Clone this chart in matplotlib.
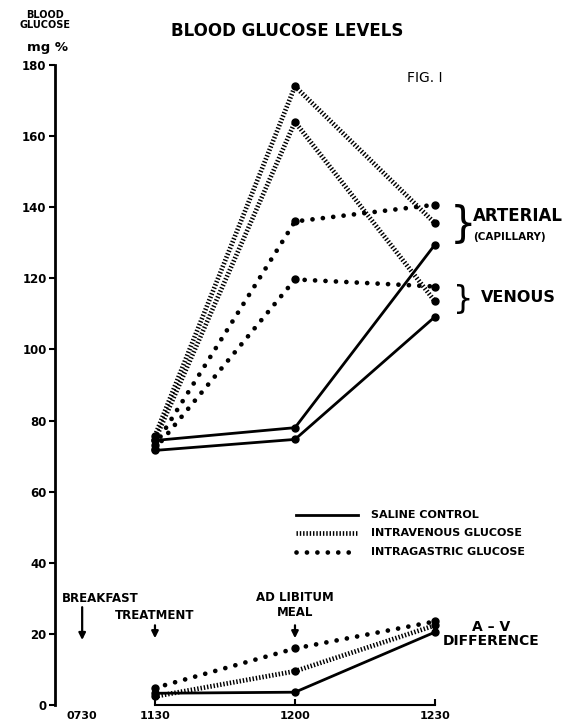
import matplotlib.pyplot as plt

# sampling times and their place on the (non linear) time axis
times = ['0730', '1130', '1200', '1230']
time_pos = {'0730': -0.52, '1130': 0.0, '1200': 1.0, '1230': 2.0}
sample_times = ['1130', '1200', '1230']

# blood glucose, mg %
saline_art = [74.4, 78.0, 129.5]
saline_ven = [71.6, 74.7, 109.2]
iv_art = [75.7, 174.0, 135.5]
iv_ven = [74.5, 164.0, 113.5]
ig_art = [73.0, 136.0, 140.7]
ig_ven = [72.0, 119.7, 117.7]

# A-V difference
av_saline = [3.3, 3.6, 20.5]
av_iv = [2.4, 9.5, 22.4]
av_ig = [4.8, 15.9, 23.5]

y_ticks = list(range(0, 181, 20))

BOLD = dict(fontweight='bold', family='DejaVu Sans', color='black')

saline_style = dict(color='black', lw=2.0, linestyle='-', marker='o', ms=5)
iv_style = dict(color='black', lw=3.4, linestyle=(0, (0.3, 0.4)), marker='o', ms=5)
ig_style = dict(color='black', lw=3.4, linestyle=(0, (0.01, 2.2)),
                dash_capstyle='round', marker='o', ms=5)


def draw_series(ax, values, style):
    xs = [time_pos[t] for t in sample_times]
    ax.plot(xs, values, clip_on=False, **style)


fig = plt.figure(figsize=(5.79, 7.23), dpi=100)
ax = fig.add_axes([55 / 579, 18 / 723, 520 / 579, 640 / 723])
ax.set_xlim(-0.714, 3.0)
ax.set_ylim(0, 180)

for vals in (saline_art, saline_ven):
    draw_series(ax, vals, saline_style)
for vals in (iv_art, iv_ven):
    draw_series(ax, vals, iv_style)
for vals in (ig_art, ig_ven):
    draw_series(ax, vals, ig_style)

draw_series(ax, av_saline, saline_style)
draw_series(ax, av_iv, iv_style)
draw_series(ax, av_ig, ig_style)

# axes
for side in ('top', 'right'):
    ax.spines[side].set_visible(False)
ax.spines['left'].set_linewidth(2)
ax.spines['bottom'].set_linewidth(1.5)
ax.spines['bottom'].set_bounds(time_pos['1130'], time_pos['1230'])

ax.set_yticks(y_ticks)
ax.set_yticklabels([str(v) for v in y_ticks], fontsize=8.5, fontweight='bold')
ax.tick_params(axis='y', direction='out', length=4, width=1.5, pad=2)

ax.set_xticks([time_pos[t] for t in times])
ax.set_xticklabels(times, fontsize=8, fontweight='bold')
ax.tick_params(axis='x', direction='in', length=4, width=1.5, pad=4)
ax.xaxis.get_major_ticks()[0].tick1line.set_visible(False)

# titles
fig.text(45 / 579, 1 - 20 / 723, 'BLOOD\nGLUCOSE', ha='center', va='center',
         fontsize=7, linespacing=0.95, **BOLD)
fig.text(47 / 579, 1 - 47 / 723, 'mg %', ha='center', va='center', fontsize=9.5, **BOLD)
fig.text(287 / 579, 1 - 31 / 723, 'BLOOD GLUCOSE LEVELS', ha='center', va='center',
         fontsize=12, **BOLD)
fig.text(425 / 579, 1 - 78 / 723, 'FIG. I', ha='center', va='center', fontsize=10,
         family='DejaVu Sans')

# arterial / venous labels
ax.text(2.2, 135, '}', ha='center', va='center', fontsize=30, family='DejaVu Sans')
ax.text(2.27, 137.6, 'ARTERIAL', ha='left', va='center', fontsize=12, **BOLD)
ax.text(2.27, 131.6, '(CAPILLARY)', ha='left', va='center', fontsize=7.5, **BOLD)
ax.text(2.2, 114, '}', ha='center', va='center', fontsize=23, family='DejaVu Sans')
ax.text(2.33, 114.5, 'VENOUS', ha='left', va='center', fontsize=11.5, **BOLD)

# legend
legend_rows = [('SALINE CONTROL', saline_style, 53.4),
               ('INTRAVENOUS GLUCOSE', iv_style, 48.4),
               ('INTRAGASTRIC GLUCOSE', ig_style, 43.0)]
for label, style, y in legend_rows:
    st = dict(style)
    st.pop('marker')
    st.pop('ms')
    ax.plot([1.01, 1.45], [y, y], **st)
    ax.text(1.54, y, label, ha='left', va='center', fontsize=8, **BOLD)

# event annotations
arrow = dict(arrowstyle='-|>', color='black', lw=1.6, mutation_scale=10)
ax.text(-0.39, 30.0, 'BREAKFAST', ha='center', va='center', fontsize=8.5, **BOLD)
ax.annotate('', xy=(time_pos['0730'], 17.5), xytext=(time_pos['0730'], 28.3),
            arrowprops=arrow)
ax.text(0.0, 25.3, 'TREATMENT', ha='center', va='center', fontsize=8.5, **BOLD)
ax.annotate('', xy=(time_pos['1130'], 18.0), xytext=(time_pos['1130'], 23.2),
            arrowprops=arrow)
ax.text(1.0, 28.2, 'AD LIBITUM\nMEAL', ha='center', va='center', fontsize=8.5,
        linespacing=1.2, **BOLD)
ax.annotate('', xy=(time_pos['1200'], 18.0), xytext=(time_pos['1200'], 23.2),
            arrowprops=arrow)
ax.text(2.4, 20.0, 'A \u2013 V\nDIFFERENCE', ha='center', va='center', fontsize=10,
        linespacing=1.0, **BOLD)

fig.savefig('out.png', dpi=100)
